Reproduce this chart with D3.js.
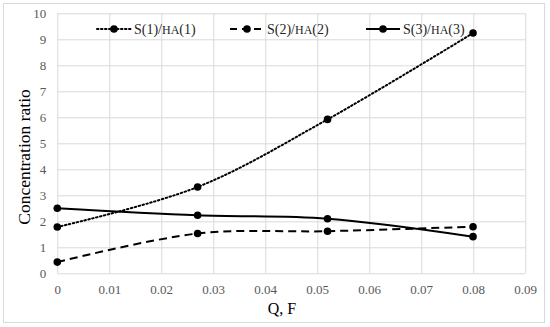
<!DOCTYPE html>
<html>
<head>
<meta charset="utf-8">
<script src="https://cdn.jsdelivr.net/npm/d3@7"></script>
<style>
body { margin: 0; background: #fff; }
text { font-family: "Liberation Serif", "Times New Roman", serif; }
</style>
</head>
<body>
<script>
// values
const qValues = [0, 0.027, 0.052, 0.08];
const s1 = [1.78, 3.32, 5.92, 9.24];
const s2 = [0.43, 1.53, 1.62, 1.79];
const s3 = [2.5, 2.23, 2.1, 1.41];
const seriesNames = ["S(1)/", "S(2)/", "S(3)/"];
const xTicks = [0, 0.01, 0.02, 0.03, 0.04, 0.05, 0.06, 0.07, 0.08, 0.09];
const yTicks = [0, 1, 2, 3, 4, 5, 6, 7, 8, 9, 10];

const W = 550, H = 327;
const margin = { top: 13.3, right: 25, bottom: 53.7, left: 57.3 };
const width = W - margin.left - margin.right;
const height = H - margin.top - margin.bottom;

const svg = d3.select("body").append("svg")
    .attr("width", W)
    .attr("height", H);

svg.append("rect")
    .attr("x", 3.5).attr("y", 3.5)
    .attr("width", 541).attr("height", 319)
    .attr("fill", "none")
    .attr("stroke", "#d9d9d9");

const g = svg.append("g")
    .attr("transform", `translate(${margin.left},${margin.top})`);

const x = d3.scaleLinear().domain([0, 0.09]).range([0, width]);
const y = d3.scaleLinear().domain([0, 10]).range([height, 0]);

// gridlines
g.append("g").selectAll("line").data(xTicks).join("line")
    .attr("x1", d => Math.round(x(d)) + 0.5).attr("x2", d => Math.round(x(d)) + 0.5)
    .attr("y1", 0).attr("y2", height)
    .attr("stroke", "#d9d9d9").attr("stroke-width", 1);
g.append("g").selectAll("line").data(yTicks).join("line")
    .attr("y1", d => Math.round(y(d)) + 0.5).attr("y2", d => Math.round(y(d)) + 0.5)
    .attr("x1", 0).attr("x2", width)
    .attr("stroke", "#d9d9d9").attr("stroke-width", 1);

// axes (labels only)
const xaxis = d3.axisBottom(x).tickValues(xTicks).tickSize(0).tickPadding(11)
    .tickFormat(d => d === 0 ? "0" : d3.format(".2f")(d));
const g_xaxis = g.append("g").attr("transform", `translate(0,${height})`).call(xaxis);
const yaxis = d3.axisLeft(y).tickValues(yTicks).tickSize(0).tickPadding(11);
const g_yaxis = g.append("g").call(yaxis);
[g_xaxis, g_yaxis].forEach(a => {
    a.select(".domain").remove();
    a.selectAll("text")
        .attr("fill", "#595959")
        .style("font-size", "13px")
        .style("font-family", "'Liberation Serif', serif");
});

// series
const styles = [
    { data: s1, dash: "1.5,2.5", cap: "round" },
    { data: s2, dash: "8,5", cap: "butt" },
    { data: s3, dash: null, cap: "butt" }
];

const line = d3.line()
    .x((d, i) => x(qValues[i]))
    .y(d => y(d))
    .curve(d3.curveCatmullRom.alpha(0.5));

styles.forEach(s => {
    g.append("path")
        .attr("d", line(s.data))
        .attr("fill", "none")
        .attr("stroke", "#000")
        .attr("stroke-width", 2)
        .attr("stroke-linecap", s.cap)
        .attr("stroke-dasharray", s.dash);
    g.append("g").selectAll("circle").data(s.data).join("circle")
        .attr("cx", (d, i) => x(qValues[i]))
        .attr("cy", d => y(d))
        .attr("r", 3.8)
        .attr("fill", "#000");
});

// legend
const legendX = [97, 230, 366];
const legend = svg.append("g");
styles.forEach((s, i) => {
    const lg = legend.append("g").attr("transform", `translate(${legendX[i]},29)`);
    lg.append("line")
        .attr("x1", 0).attr("x2", 34)
        .attr("stroke", "#000").attr("stroke-width", 2)
        .attr("stroke-linecap", s.cap)
        .attr("stroke-dasharray", i === 1 ? "7,5" : s.dash);
    lg.append("circle").attr("cx", 17).attr("cy", 0).attr("r", 3.8).attr("fill", "#000");
    const t = lg.append("text")
        .attr("x", 37).attr("y", 5)
        .attr("fill", "#262626")
        .style("font-size", "14px");
    t.append("tspan").text(seriesNames[i]);
    t.append("tspan").style("font-size", "12px").text("HA");
    t.append("tspan").text(`(${i + 1})`);
});

// axis titles
svg.append("text")
    .attr("transform", "translate(30,157) rotate(-90)")
    .attr("text-anchor", "middle")
    .style("font-size", "17.5px")
    .attr("fill", "#000")
    .text("Concentration ratio");

svg.append("text")
    .attr("x", 282)
    .attr("y", 314)
    .attr("text-anchor", "middle")
    .style("font-size", "16px")
    .attr("fill", "#000")
    .text("Q, F");
</script>
</body>
</html>
